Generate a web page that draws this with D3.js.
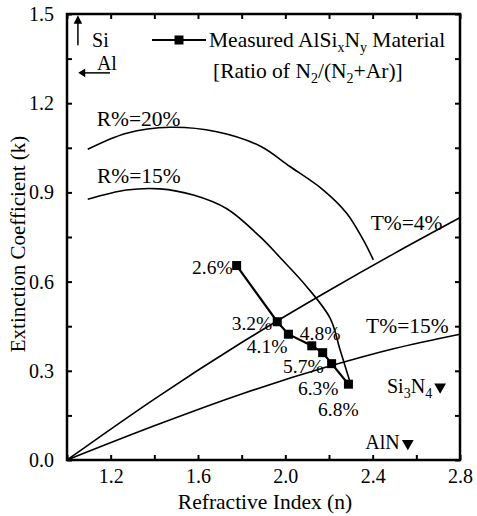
<!DOCTYPE html>
<html>
<head>
<meta charset="utf-8">
<script src="https://cdn.jsdelivr.net/npm/d3@7"></script>
<style>
  body { margin: 0; background: #fff; }
  svg { display: block; font-family: "Liberation Serif", "Times New Roman", serif; }
</style>
</head>
<body>
<div id="chart"></div>
<script>
// measured AlSixNy points (n, k) and their N2 ratio labels
const ratioLabels = ["2.6%", "3.2%", "4.1%", "4.8%", "5.7%", "6.3%", "6.8%"];
const measuredN = [1.777, 1.963, 2.014, 2.121, 2.171, 2.212, 2.289];
const measuredK = [0.654, 0.465, 0.423, 0.384, 0.361, 0.324, 0.255];

// reflectance contours
const r20 = [[1.095, 1.045], [1.273, 1.099], [1.472, 1.119], [1.686, 1.104], [1.884, 1.056],
  [2.021, 0.987], [2.174, 0.908], [2.281, 0.830], [2.357, 0.740], [2.403, 0.673]];
const r15 = [[1.095, 0.877], [1.273, 0.908], [1.426, 0.912], [1.579, 0.891], [1.732, 0.845],
  [1.884, 0.751], [1.976, 0.681], [2.098, 0.583], [2.205, 0.477], [2.251, 0.370], [2.296, 0.263]];

// transmittance contours
const t4 = [[1.0, 0.0], [1.4, 0.205], [1.8, 0.395], [2.2, 0.570], [2.5, 0.695], [2.8, 0.815]];
const t15 = [[1.0, 0.0], [1.4, 0.115], [1.8, 0.222], [2.2, 0.315], [2.5, 0.375], [2.8, 0.423]];

// reference materials
const refMaterials = [
  { name: ["Si", "3", "N", "4"], n: 2.709, k: 0.246 },
  { name: ["AlN"], n: 2.561, k: 0.056 }
];

const xMajor = [1.2, 1.6, 2.0, 2.4, 2.8];
const xMinor = [1.0, 1.4, 1.8, 2.2, 2.6];
const yMajor = [0.0, 0.3, 0.6, 0.9, 1.2, 1.5];
const yMinor = [0.15, 0.45, 0.75, 1.05, 1.35];

const width = 477, height = 516;
const x = d3.scaleLinear().domain([1.0, 2.8]).range([67, 460]);
const y = d3.scaleLinear().domain([0, 1.5]).range([460, 14]);

const svg = d3.select("#chart").append("svg")
  .attr("width", width).attr("height", height);

const fmt = d3.format(".1f");

// axes, ticks pointing inward
function addAxis(axis, transform, labels) {
  const g = svg.append("g").attr("transform", transform).call(axis);
  g.select(".domain").remove();
  g.selectAll(".tick line").attr("stroke", "#000").attr("stroke-width", 2);
  if (!labels) g.selectAll(".tick text").remove();
  return g;
}

addAxis(d3.axisBottom(x).tickValues(xMajor).tickSize(-5).tickPadding(9).tickFormat(fmt),
  `translate(0,${y(0)})`, true);
addAxis(d3.axisBottom(x).tickValues(xMinor).tickSize(-5), `translate(0,${y(0)})`, false);
addAxis(d3.axisTop(x).tickValues(xMajor.concat(xMinor)).tickSize(-5), `translate(0,${y(1.5)})`, false);

addAxis(d3.axisLeft(y).tickValues(yMajor).tickSize(-5).tickPadding(13).tickFormat(fmt),
  `translate(${x(1.0)},0)`, true);
addAxis(d3.axisLeft(y).tickValues(yMinor).tickSize(-5), `translate(${x(1.0)},0)`, false);
addAxis(d3.axisRight(y).tickValues(yMajor.concat(yMinor)).tickSize(-5), `translate(${x(2.8)},0)`, false);

svg.selectAll(".tick text")
  .attr("font-family", "Liberation Serif")
  .attr("font-size", 20)
  .attr("fill", "#000");

// frame
svg.append("rect")
  .attr("x", x(1.0)).attr("y", y(1.5))
  .attr("width", x(2.8) - x(1.0)).attr("height", y(0) - y(1.5))
  .attr("fill", "none").attr("stroke", "#000").attr("stroke-width", 2.5);

// axis titles
svg.append("text")
  .attr("x", 265).attr("y", 509)
  .attr("text-anchor", "middle").attr("font-size", 21.5)
  .text("Refractive Index (n)");

svg.append("text")
  .attr("transform", `translate(25,244) rotate(-90)`)
  .attr("text-anchor", "middle").attr("font-size", 21)
  .text("Extinction Coefficient (k)");

// contour curves
const smooth = d3.line().x(d => x(d[0])).y(d => y(d[1])).curve(d3.curveCatmullRom);
const mono = d3.line().x(d => x(d[0])).y(d => y(d[1])).curve(d3.curveMonotoneX);

[r20, r15].forEach(c => {
  svg.append("path").attr("d", smooth(c))
    .attr("fill", "none").attr("stroke", "#000").attr("stroke-width", 1.6);
});
[t4, t15].forEach(c => {
  svg.append("path").attr("d", mono(c))
    .attr("fill", "none").attr("stroke", "#000").attr("stroke-width", 1.6);
});

// contour labels (anchored in data coordinates)
const contourLabels = [
  { text: "R%=20%", n: 1.136, k: 1.123 },
  { text: "R%=15%", n: 1.137, k: 0.932 },
  { text: "T%=4%", n: 2.391, k: 0.774 },
  { text: "T%=15%", n: 2.370, k: 0.426 }
];
svg.selectAll(".clabel").data(contourLabels).join("text")
  .attr("class", "clabel")
  .attr("x", d => x(d.n)).attr("y", d => y(d.k))
  .attr("font-size", 21.5)
  .text(d => d.text);

// measured series
const measured = measuredN.map((n, i) => ({ n, k: measuredK[i], label: ratioLabels[i] }));
svg.append("path")
  .attr("d", d3.line().x(d => x(d.n)).y(d => y(d.k))(measured))
  .attr("fill", "none").attr("stroke", "#000").attr("stroke-width", 2.2);

svg.selectAll(".pt").data(measured).join("rect")
  .attr("class", "pt")
  .attr("x", d => x(d.n) - 4.5).attr("y", d => y(d.k) - 4.5)
  .attr("width", 9).attr("height", 9).attr("fill", "#000");

// label offsets (px) and anchors for each point
const labelOffsets = [[-4, 8, "end"], [-5, 8, "end"], [-1, 19, "end"], [-12, -6, "start"],
  [1, 20, "end"], [7, 31, "end"], [-10, 32, "middle"]];
svg.selectAll(".plabel").data(measured).join("text")
  .attr("class", "plabel")
  .attr("x", (d, i) => x(d.n) + labelOffsets[i][0])
  .attr("y", (d, i) => y(d.k) + labelOffsets[i][1])
  .attr("text-anchor", (d, i) => labelOffsets[i][2])
  .attr("font-size", 19.5)
  .text(d => d.label);

// reference material markers
const tri = d3.symbol().type(d3.symbolTriangle).size(60);
refMaterials.forEach(m => {
  svg.append("path")
    .attr("d", tri())
    .attr("transform", `translate(${x(m.n)},${y(m.k)}) rotate(180)`)
    .attr("fill", "#000");
  const t = svg.append("text")
    .attr("x", x(m.n) - 8).attr("y", y(m.k) + 6)
    .attr("text-anchor", "end").attr("font-size", 20);
  m.name.forEach((s, i) => {
    const sub = i % 2 === 1;
    t.append("tspan")
      .attr("font-size", sub ? 14 : 20)
      .attr("dy", sub ? 5 : (i > 0 ? -5 : 0))
      .text(s);
  });
});

// legend
const lg = svg.append("g");
lg.append("line").attr("x1", 152).attr("x2", 206).attr("y1", 40).attr("y2", 40)
  .attr("stroke", "#000").attr("stroke-width", 2);
lg.append("rect").attr("x", 174.5).attr("y", 35.5).attr("width", 9).attr("height", 9).attr("fill", "#000");

function richText(parts, tx, ty, size) {
  const t = lg.append("text").attr("x", tx).attr("y", ty).attr("font-size", size);
  let shift = 0;
  parts.forEach(([s, sub]) => {
    const target = sub ? 5 : 0;
    t.append("tspan")
      .attr("font-size", sub ? size * 0.65 : size)
      .attr("dy", target - shift)
      .text(s);
    shift = target;
  });
  return t;
}
richText([["Measured AlSi", 0], ["x", 1], ["N", 0], ["y", 1], [" Material", 0]], 209, 47, 21.5);
richText([["[Ratio of N", 0], ["2", 1], ["/(N", 0], ["2", 1], ["+Ar)]", 0]], 213, 78, 21.5);

// Si / Al direction arrows
const ann = svg.append("g").attr("stroke", "#000").attr("stroke-width", 1.5);
ann.append("line").attr("x1", x(1.05)).attr("x2", x(1.05)).attr("y1", y(1.395)).attr("y2", y(1.48));
ann.append("path").attr("d", `M${x(1.05) - 3},${y(1.47)} L${x(1.05)},${y(1.49)} L${x(1.05) + 3},${y(1.47)} Z`)
  .attr("fill", "#000");
ann.append("line").attr("x1", x(1.197)).attr("x2", x(1.065)).attr("y1", y(1.302)).attr("y2", y(1.302));
ann.append("path").attr("d", `M${x(1.08)},${y(1.302) - 3} L${x(1.058)},${y(1.302)} L${x(1.08)},${y(1.302) + 3} Z`)
  .attr("fill", "#000");

svg.append("text").attr("x", x(1.115)).attr("y", y(1.39)).attr("font-size", 20).text("Si");
svg.append("text").attr("x", x(1.137)).attr("y", y(1.31)).attr("font-size", 20).text("Al");
</script>
</body>
</html>
